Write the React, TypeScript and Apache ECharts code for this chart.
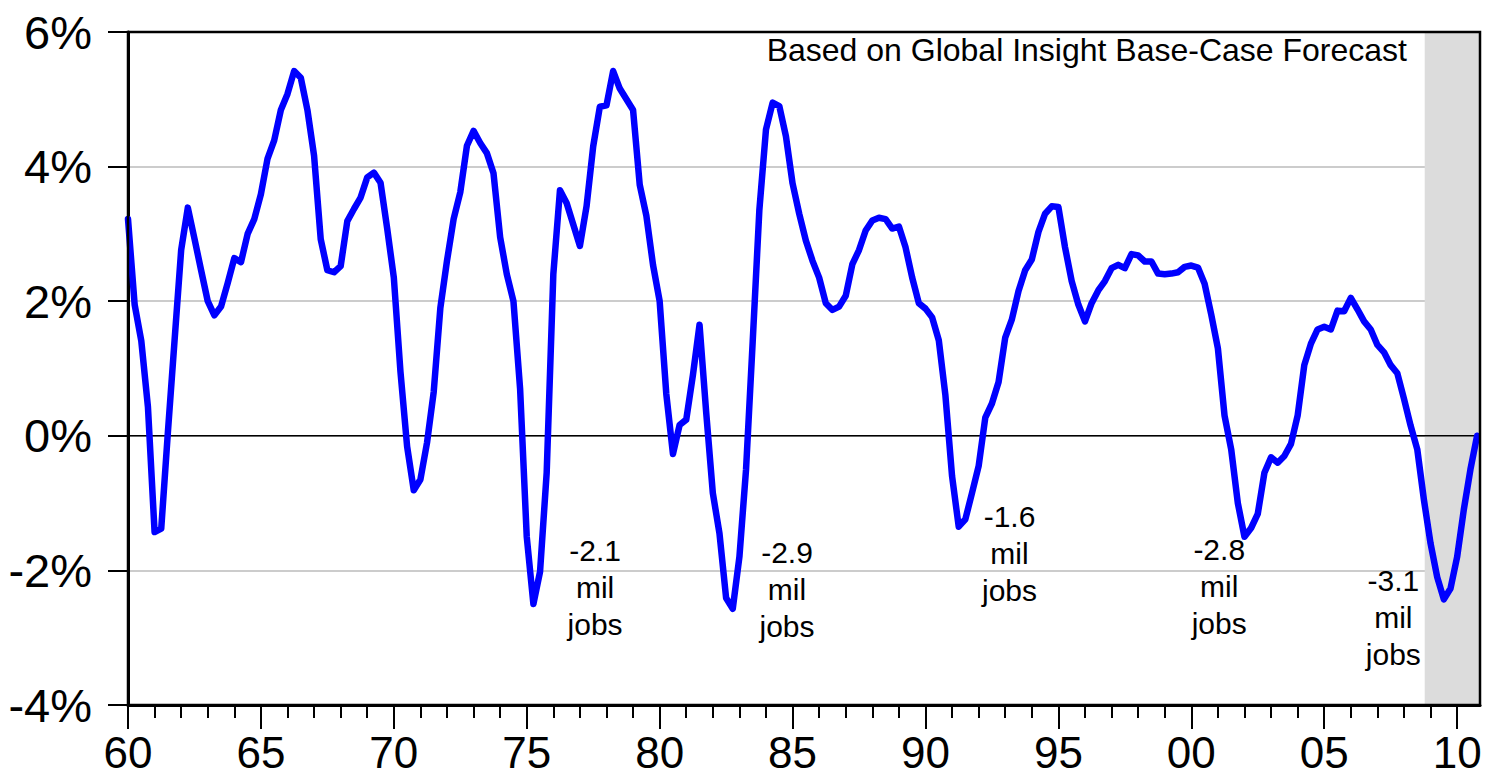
import React, { useEffect, useRef } from "react";
import * as echarts from "echarts";

// Year-over-year % change in payroll employment, quarterly, 1960Q1 .. 2010Q4 (forecast at end)
const startYear = 1960;
const growth1960s = [
  3.22, 1.95, 1.41, 0.43,
  -1.43, -1.38, 0.05, 1.41,
  2.76, 3.39, 2.93, 2.46,
  2.0, 1.79, 1.92, 2.27,
  2.64, 2.58, 3.0, 3.22,
  3.59, 4.12, 4.39, 4.84,
  5.08, 5.42, 5.32, 4.84,
  4.16, 2.92, 2.46, 2.43,
  2.52, 3.19, 3.37, 3.54,
  3.84, 3.91, 3.76, 3.08,
];
const growth1970s = [
  2.35, 0.95, -0.16, -0.81,
  -0.65, -0.1, 0.65, 1.9,
  2.6, 3.22, 3.62, 4.31,
  4.53, 4.35, 4.2, 3.9,
  2.95, 2.4, 2.0, 0.7,
  -1.5, -2.5, -2.02, -0.55,
  2.4, 3.65, 3.46, 3.14,
  2.82, 3.41, 4.3, 4.89,
  4.91, 5.42, 5.16, 5.0,
  4.84, 3.73, 3.27, 2.54,
];
const growth1980s = [
  2.0, 0.62, -0.27, 0.16,
  0.24, 0.9, 1.65, 0.35,
  -0.85, -1.45, -2.41, -2.57,
  -1.8, -0.5, 1.4, 3.35,
  4.55, 4.95, 4.9, 4.45,
  3.75, 3.3, 2.9, 2.6,
  2.35, 1.97, 1.87, 1.92,
  2.08, 2.55, 2.76, 3.05,
  3.2, 3.24, 3.22, 3.08,
  3.11, 2.8, 2.35, 1.97,
];
const growth1990s = [
  1.89, 1.76, 1.42, 0.6,
  -0.6, -1.35, -1.24, -0.85,
  -0.45, 0.27, 0.48, 0.8,
  1.46, 1.73, 2.15, 2.46,
  2.62, 3.03, 3.3, 3.41,
  3.4, 2.8, 2.3, 1.95,
  1.7, 1.97, 2.16, 2.3,
  2.49, 2.54, 2.49, 2.7,
  2.68, 2.59, 2.59, 2.41,
  2.4, 2.41, 2.43, 2.51,
];
const growth2000s = [
  2.53, 2.5, 2.26, 1.8,
  1.3, 0.3, -0.2, -1.0,
  -1.5, -1.37, -1.16, -0.55,
  -0.32, -0.4, -0.3, -0.12,
  0.3, 1.05, 1.37, 1.58,
  1.62, 1.58, 1.86, 1.85,
  2.05, 1.88, 1.7, 1.58,
  1.35, 1.24, 1.05, 0.93,
  0.55, 0.15, -0.2, -0.95,
  -1.6, -2.1, -2.43, -2.27,
  -1.8, -1.1, -0.5, 0.0,
];

const xMin = 1960;
const xMax = 2010.86;
const forecastStart = 2008.78;
const majorTickYears = [1960, 1965, 1970, 1975, 1980, 1985, 1990, 1995, 2000, 2005, 2010];
const minorTickYears = Array.from({ length: 51 }, (_, i) => 1960 + i);
const yTicks = { min: -4, max: 6, interval: 2 };

const noteText = "Based on Global Insight Base-Case Forecast";
const annotationLabels = ["-2.1\nmil\njobs", "-2.9\nmil\njobs", "-1.6\nmil\njobs", "-2.8\nmil\njobs", "-3.1\nmil\njobs"];
const annotationAnchors = [
  [1977.57, -2.26],
  [1984.79, -2.28],
  [1993.16, -1.75],
  [2001.05, -2.24],
  [2007.6, -2.7],
];

const FONT = "'Liberation Sans', Arial, Helvetica, sans-serif";

export default function App() {
  const ref = useRef<HTMLDivElement>(null);

  useEffect(() => {
    if (!ref.current) return;
    const chart = echarts.init(ref.current, undefined, { renderer: "svg" });
    const values = [...growth1960s, ...growth1970s, ...growth1980s, ...growth1990s, ...growth2000s];
    const seriesData = values.map((v, i) => [startYear + i * 0.25, v]);

    chart.setOption({
      animation: false,
      backgroundColor: "#ffffff",
      grid: {
        left: 128,
        right: 19,
        top: 32,
        bottom: 73,
        show: true,
        z: 10,
        borderColor: "#000",
        borderWidth: 2.5,
        backgroundColor: "transparent",
      },
      xAxis: [
        {
          type: "value",
          min: xMin,
          max: xMax,
          position: "bottom",
          axisLine: { show: true, onZero: false, lineStyle: { color: "#000", width: 3 } },
          axisTick: {
            show: true,
            customValues: majorTickYears,
            length: 24,
            lineStyle: { color: "#000", width: 2 },
          },
          axisLabel: {
            show: true,
            customValues: majorTickYears,
            formatter: (v: number) => String(Math.round(v) % 100).padStart(2, "0"),
            fontSize: 44,
            fontFamily: FONT,
            color: "#000",
            margin: 25,
          },
          splitLine: { show: false },
        },
        {
          type: "value",
          min: xMin,
          max: xMax,
          position: "bottom",
          axisLine: { show: false, onZero: false },
          axisTick: {
            show: true,
            customValues: minorTickYears,
            length: 13,
            lineStyle: { color: "#000", width: 2 },
          },
          axisLabel: { show: false },
          splitLine: { show: false },
        },
      ],
      yAxis: {
        type: "value",
        min: yTicks.min,
        max: yTicks.max,
        interval: yTicks.interval,
        axisLine: { show: true, onZero: false, lineStyle: { color: "#000", width: 3 } },
        axisTick: { show: true, length: 20, lineStyle: { color: "#000", width: 2 } },
        axisLabel: {
          formatter: "{value}%",
          fontSize: 47,
          fontFamily: FONT,
          color: "#000",
          margin: 36,
        },
        splitLine: { show: true, lineStyle: { color: "#cccccc", width: 2 } },
      },
      graphic: [
        {
          type: "text",
          right: 92,
          top: 34,
          style: {
            text: noteText,
            fontSize: 32,
            fontFamily: FONT,
            fill: "#000",
          },
        },
      ],
      series: [
        {
          name: "zero",
          type: "line",
          z: 1.5,
          silent: true,
          showSymbol: false,
          data: [
            [xMin, 0],
            [xMax, 0],
          ],
          lineStyle: { color: "#000", width: 1.5 },
        },
        {
          name: "Payroll growth",
          type: "line",
          z: 3,
          showSymbol: false,
          data: seriesData,
          lineStyle: { color: "#0000ff", width: 6.5, join: "round", cap: "round" },
          markArea: {
            silent: true,
            itemStyle: { color: "#dcdcdc" },
            data: [[{ xAxis: forecastStart }, { xAxis: xMax }]],
          },
          markPoint: {
            silent: true,
            symbol: "circle",
            symbolSize: 0,
            label: {
              show: true,
              position: "inside",
              fontSize: 30,
              lineHeight: 37,
              fontFamily: FONT,
              color: "#000",
              align: "center",
            },
            data: annotationAnchors.map((c, i) => ({
              coord: c,
              value: annotationLabels[i],
              label: { formatter: annotationLabels[i] },
            })),
          },
        },
      ],
    });

    return () => chart.dispose();
  }, []);

  return (
    <div
      ref={ref}
      style={{ position: "fixed", left: 0, top: 0, width: 1499, height: 778, background: "#fff" }}
    />
  );
}
